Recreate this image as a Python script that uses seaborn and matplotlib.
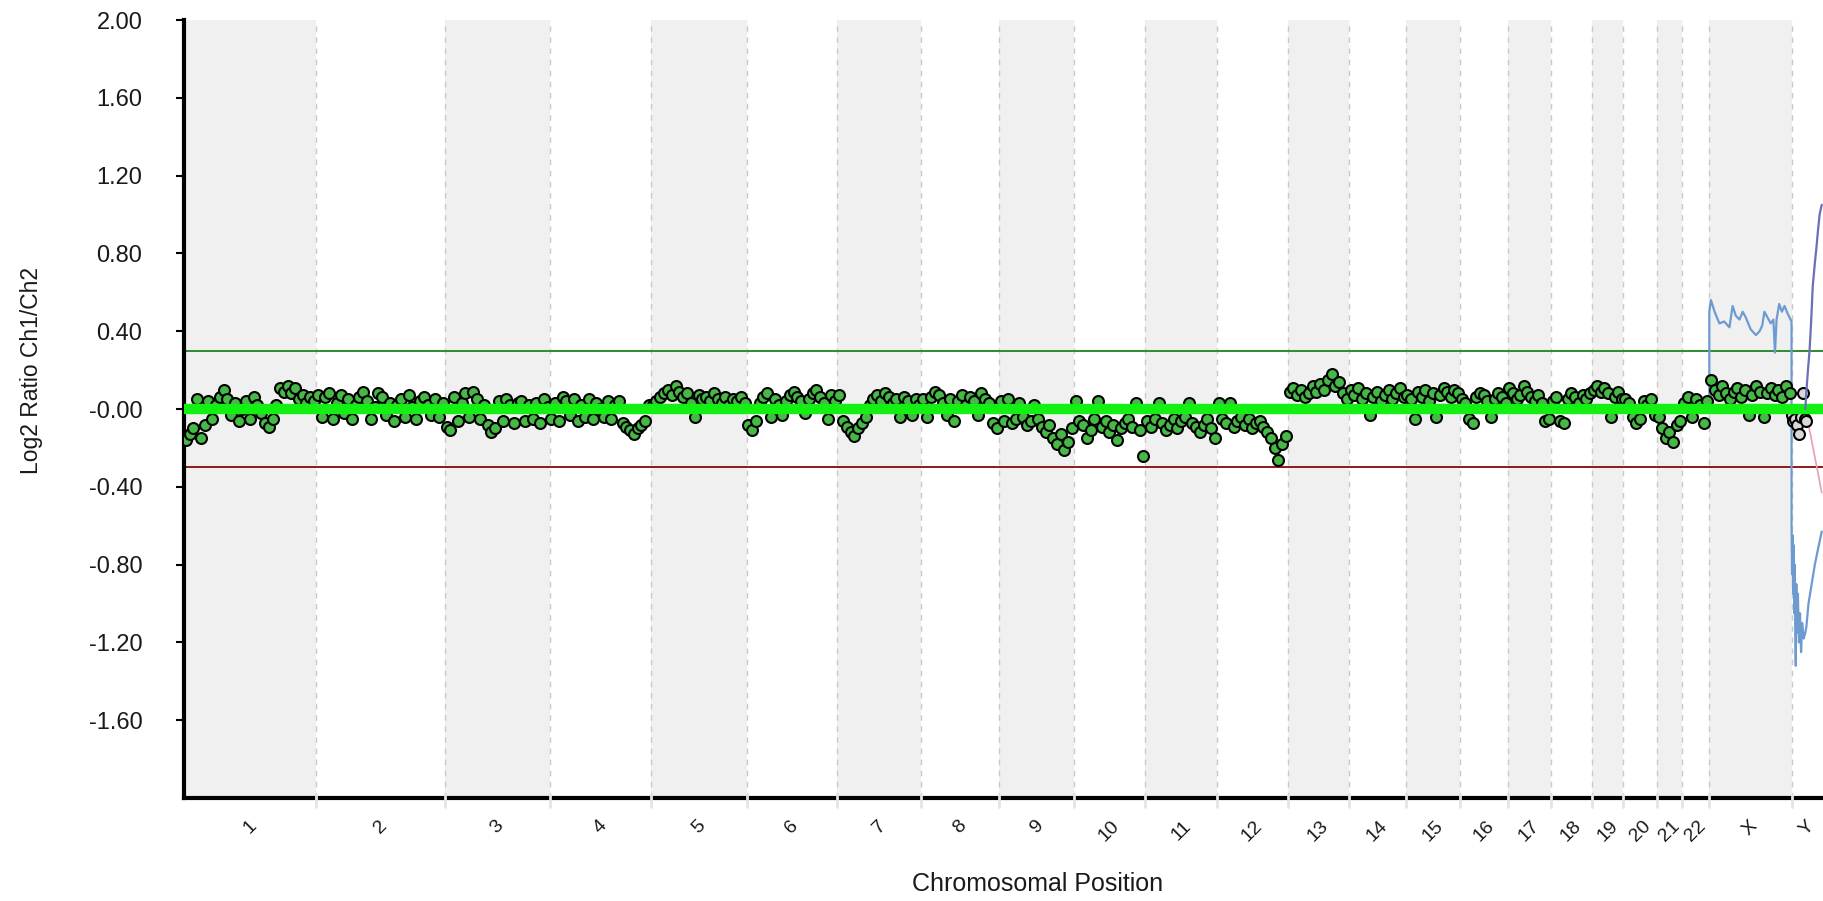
import numpy as np
import pandas as pd
import matplotlib
matplotlib.use("Agg")
import matplotlib.pyplot as plt
import seaborn as sns

# chromosome layout (hg19 lengths, Mb)
chrom_names = [str(i) for i in range(1, 23)] + ["X", "Y"]
chrom_len_mb = [249.25, 243.2, 198.0, 191.15, 180.9, 171.1, 159.1, 146.4, 141.2, 135.5,
                135.0, 133.9, 115.2, 107.3, 102.5, 90.4, 81.2, 78.1, 59.1, 63.0,
                48.1, 51.3, 155.3, 59.4]

# log2 ratios, in order along each chromosome
chr1 = [-0.16, -0.13, -0.10, 0.05, -0.15, -0.08, 0.04, -0.05, 0.02, 0.06, 0.10, 0.05, -0.03, 0.03,
        -0.06, 0.00, 0.04, -0.05, 0.06, 0.02, -0.02, -0.07, -0.09, -0.05, 0.02, 0.11, 0.09, 0.12,
        0.08, 0.11, 0.05, 0.07, 0.03, 0.06, 0.04]
chr2 = [0.07, -0.04, 0.06, 0.08, -0.05, 0.03, 0.07, -0.02, 0.05, -0.05, 0.02, 0.06, 0.09, 0.04,
        -0.05, 0.01, 0.08, 0.06, -0.03, 0.03, -0.06, 0.02, 0.05, -0.04, 0.07, 0.01, -0.05, 0.04,
        0.06, 0.02, -0.03, 0.05, -0.04, 0.03]
chr3 = [-0.09, -0.11, 0.06, -0.06, 0.03, 0.08, -0.04, 0.09, 0.05, -0.05, 0.02, -0.08, -0.12, -0.10,
        0.04, -0.06, 0.05, 0.02, -0.07, 0.03, 0.04, -0.06, 0.02, -0.05, 0.03, -0.07, 0.05, 0.01]
chr4 = [-0.05, 0.03, -0.06, 0.06, 0.04, -0.03, 0.05, -0.06, 0.02, -0.04, 0.05, -0.05, 0.03, 0.00,
        -0.04, 0.04, -0.05, 0.02, 0.04, -0.07, -0.09, -0.11, -0.13, -0.10, -0.08, -0.06, 0.02]
chr5 = [0.02, 0.04, 0.06, 0.08, 0.10, 0.07, 0.12, 0.09, 0.06, 0.08, 0.03, -0.04, 0.07, 0.05,
        0.06, 0.04, 0.08, 0.05, 0.03, 0.06, 0.02, 0.05, 0.04, 0.06, 0.03]
chr6 = [-0.08, -0.11, -0.06, 0.03, 0.06, 0.08, -0.04, 0.05, 0.02, -0.03, 0.04, 0.07, 0.09, 0.06,
        0.04, -0.02, 0.05, 0.08, 0.10, 0.06, 0.03, -0.05, 0.07, 0.04]
chr7 = [0.07, -0.06, -0.09, -0.12, -0.14, -0.10, -0.07, -0.04, 0.02, 0.05, 0.07, 0.04, 0.08, 0.06,
        0.03, 0.05, -0.04, 0.06, 0.04, -0.03, 0.05, 0.02]
chr8 = [0.05, -0.04, 0.06, 0.09, 0.07, 0.03, -0.03, 0.05, -0.06, 0.04, 0.07, 0.02, 0.06, 0.04,
        -0.03, 0.08, 0.05, 0.03, -0.07, -0.10]
chr9 = [0.04, -0.06, 0.05, -0.07, -0.05, 0.03, -0.04, -0.08, -0.06, 0.02, -0.05, -0.09, -0.12,
        -0.08, -0.15, -0.18, -0.13, -0.21, -0.17, -0.10]
chr10 = [0.04, -0.06, -0.08, -0.15, -0.11, -0.05, 0.04, -0.09, -0.06, -0.12, -0.08, -0.16, -0.10,
         -0.07, -0.05, -0.09, 0.03, -0.11, -0.24]
chr11 = [-0.06, -0.09, -0.05, 0.03, -0.07, -0.11, -0.08, -0.05, -0.10, -0.06, -0.04, 0.03, -0.07,
         -0.09, -0.12, -0.08, -0.05, -0.10, -0.15]
chr12 = [0.03, -0.05, -0.07, 0.03, -0.09, -0.06, -0.04, -0.08, -0.05, -0.10, -0.07, -0.06, -0.09,
         -0.12, -0.15, -0.20, -0.26, -0.18, -0.14]
chr13 = [0.09, 0.11, 0.07, 0.10, 0.06, 0.08, 0.12, 0.09, 0.13, 0.10, 0.15, 0.18, 0.12, 0.14, 0.08, 0.05]
chr14 = [0.10, 0.07, 0.11, 0.05, 0.08, -0.03, 0.06, 0.09, 0.04, 0.07, 0.10, 0.05, 0.08, 0.11, 0.06]
chr15 = [0.07, 0.05, -0.05, 0.09, 0.06, 0.10, 0.04, 0.08, -0.04, 0.07, 0.11, 0.09, 0.06, 0.10, 0.08]
chr16 = [0.05, 0.03, -0.05, -0.07, 0.06, 0.08, 0.07, 0.04, -0.04, 0.05, 0.08, 0.06, 0.03]
chr17 = [0.11, 0.08, 0.05, 0.07, 0.12, 0.09, 0.06, 0.04, 0.07, 0.03, -0.06, -0.05]
chr18 = [0.04, 0.06, -0.06, -0.07, 0.05, 0.08, 0.06, 0.03, 0.07, 0.05, 0.08]
chr19 = [0.10, 0.12, 0.09, 0.11, 0.08, -0.04, 0.06, 0.09, 0.05]
chr20 = [0.05, 0.03, -0.04, -0.07, -0.05, 0.04, 0.02, 0.05, -0.03]
chr21 = [-0.04, -0.10, -0.15, -0.12, -0.17, -0.08, -0.06]
chr22 = [0.03, 0.06, -0.04, 0.05, 0.02, -0.07, 0.04]
chrX = [0.15, 0.10, 0.07, 0.12, 0.08, 0.05, 0.09, 0.11, 0.06, 0.10, -0.03, 0.07, 0.12, 0.09,
        -0.04, 0.08, 0.11, 0.07, 0.10, 0.06, 0.12, 0.08]
# Y probes only cover the start of the chromosome
chrY_mb = [1, 3, 6, 10, 14, 18, 22, 25, 28]
chrY = [-0.03, -0.06, -0.05, -0.08, -0.13, -0.04, 0.08, -0.05, -0.06]

# segment / moving average lines on the sex chromosomes
blue_x_mb = [0, 0, 3, 10, 19, 28, 38, 44, 50, 57, 63, 69, 78, 88, 95, 100, 104, 110, 116, 121,
             124, 127, 132, 137, 142, 148, 155.3]
blue_x_val = [0.0, 0.50, 0.56, 0.50, 0.44, 0.45, 0.42, 0.53, 0.48, 0.46, 0.50, 0.47, 0.41, 0.38,
              0.40, 0.43, 0.50, 0.47, 0.44, 0.46, 0.29, 0.46, 0.54, 0.50, 0.53, 0.49, 0.45]
blue_y_mb = [0, 1, 2, 3, 4, 5, 6, 7, 8, 9, 10, 12, 14, 16, 18, 20, 23, 26, 28, 32, 38, 44, 50, 57]
blue_y_val = [-0.60, -0.85, -0.65, -0.95, -0.70, -1.05, -0.80, -1.10, -1.32, -0.90, -1.15, -0.95,
              -1.20, -1.05, -1.25, -1.10, -1.18, -1.15, -1.12, -1.00, -0.90, -0.80, -0.72, -0.63]
purple_y_mb = [26, 28, 31, 34, 37, 40, 44, 47, 50, 53, 57]
purple_y_val = [0.0, 0.09, 0.20, 0.30, 0.45, 0.63, 0.75, 0.83, 0.92, 1.00, 1.05]
pink_y_mb = [26, 28, 35, 42, 50, 57]
pink_y_val = [-0.02, -0.03, -0.12, -0.22, -0.33, -0.43]

gain_cut = 0.30
loss_cut = -0.30
baseline = 0.0
yticks = [-1.6, -1.2, -0.8, -0.4, 0.0, 0.4, 0.8, 1.2, 1.6, 2.0]
ytick_labels = ["-1.60", "-1.20", "-0.80", "-0.40", "-0.00", "0.40", "0.80", "1.20", "1.60", "2.00"]

#%% build tables
offsets = np.concatenate([[0], np.cumsum(chrom_len_mb)[:-1]])
genome_end = float(np.sum(chrom_len_mb))
mids = offsets + np.array(chrom_len_mb) / 2

autosome_vals = [chr1, chr2, chr3, chr4, chr5, chr6, chr7, chr8, chr9, chr10, chr11, chr12,
                 chr13, chr14, chr15, chr16, chr17, chr18, chr19, chr20, chr21, chr22, chrX]
rows = []
for i, vals in enumerate(autosome_vals):
    n = len(vals)
    pos = offsets[i] + (np.arange(n) + 0.5) / n * chrom_len_mb[i]
    for p, v in zip(pos, vals):
        rows.append((chrom_names[i], p, v))
pts = pd.DataFrame(rows, columns=["chrom", "gpos", "ratio"])
pts_y = pd.DataFrame({"gpos": offsets[23] + np.array(chrY_mb), "ratio": chrY})

blue = pd.DataFrame({
    "gpos": np.concatenate([offsets[22] + np.array(blue_x_mb), offsets[23] + np.array(blue_y_mb)]),
    "ratio": blue_x_val + blue_y_val})
purple = pd.DataFrame({"gpos": offsets[23] + np.array(purple_y_mb), "ratio": purple_y_val})
pink = pd.DataFrame({"gpos": offsets[23] + np.array(pink_y_mb), "ratio": pink_y_val})

#%% plot
sns.set_theme(style="white")
plt.rcParams['font.family'] = ['Liberation Sans', 'DejaVu Sans']
plt.rcParams['text.color'] = '#1a1a1a'

fig = plt.figure(figsize=(18.23, 9.01), dpi=100)
ax = fig.add_axes([0.1009, 0.1143, 0.8991, 0.8635])

for i in range(len(chrom_names)):
    if i % 2 == 0 and i < 23:
        ax.axvspan(offsets[i], offsets[i] + chrom_len_mb[i], color='#f0f0f0', lw=0, zorder=0)
for b in offsets[1:]:
    ax.axvline(b, color='#c9c9c9', ls=(0, (4, 4)), lw=1, zorder=1)
    ax.plot([b, b], [-0.012, 0.004], transform=ax.get_xaxis_transform(), color='#e4e4e4',
            lw=2, clip_on=False, zorder=6)

ax.axhline(gain_cut, color='#2f8a2f', lw=1.4, zorder=2)
ax.axhline(loss_cut, color='#8b1a1a', lw=1.4, zorder=2)

sns.lineplot(data=blue, x="gpos", y="ratio", sort=False, estimator=None, color='#6d9bd1',
             lw=1.6, ax=ax, zorder=2)
sns.lineplot(data=pink, x="gpos", y="ratio", sort=False, estimator=None, color='#e7a0ae',
             lw=1.2, ax=ax, zorder=2)

sns.scatterplot(data=pts, x="gpos", y="ratio", color='#46b846', edgecolor='black',
                linewidth=1.5, s=62, ax=ax, zorder=3)
sns.scatterplot(data=pts_y, x="gpos", y="ratio", color='#d8d8d8', edgecolor='black',
                linewidth=1.5, s=62, ax=ax, zorder=3)

ax.axhline(baseline, color='#14f014', lw=7.5, zorder=4)
sns.lineplot(data=purple, x="gpos", y="ratio", sort=False, estimator=None, color='#6c6fb4',
             lw=1.6, ax=ax, zorder=5)

ax.set_xlim(0, genome_end)
ax.set_ylim(-2.0, 2.0)
ax.set_yticks(yticks)
ax.set_yticklabels(ytick_labels)
ax.set_xticks(mids)
ax.set_xticklabels(chrom_names, rotation=45, ha='center')

for s in ["top", "right"]:
    ax.spines[s].set_visible(False)
for s in ["left", "bottom"]:
    ax.spines[s].set_color('black')
    ax.spines[s].set_linewidth(3)

ax.tick_params(axis='y', length=6, width=1.5, color='black', pad=24, labelsize=17,
               labelcolor='#1a1a1a', left=True)
ax.tick_params(axis='x', length=0, pad=14, labelsize=14, labelcolor='#1a1a1a')

ax.set_ylabel("Log2 Ratio Ch1/Ch2", fontsize=16.5, color='#1a1a1a')
ax.yaxis.set_label_coords(-0.086, 0.549)
ax.set_xlabel("Chromosomal Position", fontsize=18, color='#1a1a1a')
ax.xaxis.set_label_coords(0.521, -0.095)

fig.savefig("out.png", dpi=100)
